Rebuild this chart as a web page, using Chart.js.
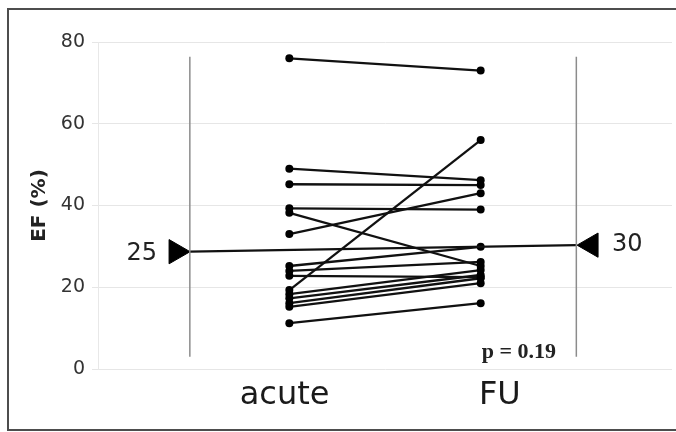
<!DOCTYPE html>
<html><head><meta charset="utf-8">
<script src="https://cdn.jsdelivr.net/npm/chart.js@4"></script>
<style>
html,body{margin:0;padding:0;background:#fff;overflow:hidden;width:676px;height:432px}
#wrap{position:relative;width:676px;height:432px;overflow:hidden}
#frame{position:absolute;left:7px;top:8px;width:700px;height:419px;border:2px solid #4d4d4d;border-right:none}
canvas{position:absolute;left:0;top:0}
</style></head>
<body><div id="wrap"><div id="frame"></div><canvas id="c" width="676" height="432"></canvas></div>
<script>
// ---- data ----
const groups = ['acute', 'FU'];
const acuteEF = [76, 49, 45.2, 39.3, 38.2, 33, 25.2, 24, 22.8, 19.3, 18.3, 17.3, 16.1, 15.2, 11.2];
const fuEF    = [73, 46.2, 45, 39, 25.2, 43, 29.9, 26.2, 22.5, 56, 24.2, 23, 22.2, 21, 16.1];
const medianEF = [28.7, 30.3];
const medianText = ['25', '30'];
const pText = 'p = 0.19';
const yTickValues = [0, 20, 40, 60, 80];
const yTitle = 'EF (%)';

const X_GUIDE_L = 0.48, X_GUIDE_R = 2.5;
const X_TRI_L = 0.408, X_TRI_R = 2.577;
const X_LABEL_POS = [0.975, 2.1];
const GUIDE_Y = [3, 76.4];

const datasets = [];
[X_GUIDE_L, X_GUIDE_R].forEach(gx => datasets.push({
  data: [{x: gx, y: GUIDE_Y[0]}, {x: gx, y: GUIDE_Y[1]}],
  borderColor: '#8c8c8c', borderWidth: 1.5, pointRadius: 0, showLine: true
}));
datasets.push({
  data: [{x: X_GUIDE_L, y: medianEF[0]}, {x: X_GUIDE_R, y: medianEF[1]}],
  borderColor: '#111', borderWidth: 2.2, pointRadius: 0, showLine: true
});
datasets.push({
  data: [{x: X_TRI_L, y: medianEF[0]}, {x: X_TRI_R, y: medianEF[1]}],
  showLine: false, pointStyle: 'triangle', pointRotation: [90, -90],
  pointRadius: 14, pointBackgroundColor: '#000', pointBorderColor: '#000', pointBorderWidth: 1
});
acuteEF.forEach((a, i) => datasets.push({
  data: [{x: 1, y: a}, {x: 2, y: fuEF[i]}],
  borderColor: '#111', borderWidth: 2.3, showLine: true,
  pointRadius: 4, pointBackgroundColor: '#000', pointBorderColor: '#000', pointBorderWidth: 0
}));

const annot = {
  id: 'annot',
  afterDatasetsDraw(chart) {
    const {ctx, scales: {x, y}} = chart;
    ctx.save();
    ctx.fillStyle = '#222';
    ctx.font = '24px "DejaVu Sans"';
    ctx.textBaseline = 'middle';
    ctx.textAlign = 'right';
    ctx.fillText(medianText[0], x.getPixelForValue(X_TRI_L) - 19, y.getPixelForValue(medianEF[0]) + 2);
    ctx.textAlign = 'left';
    ctx.fillText(medianText[1], x.getPixelForValue(X_TRI_R) + 21, y.getPixelForValue(medianEF[1]));
    ctx.font = 'bold 22px "Liberation Serif"';
    ctx.textAlign = 'center';
    ctx.fillText(pText, x.getPixelForValue(2.2), y.getPixelForValue(4.2));
    ctx.restore();
  }
};

new Chart(document.getElementById('c'), {
  type: 'line',
  data: {datasets},
  plugins: [annot],
  options: {
    responsive: false, animation: false,
    layout: {autoPadding: false, padding: {left: 0, right: 4, top: 42, bottom: 0}},
    plugins: {legend: {display: false}, tooltip: {enabled: false}},
    scales: {
      x: {
        type: 'linear', min: 0, max: 3,
        afterBuildTicks: ax => { ax.ticks = X_LABEL_POS.map(v => ({value: v})); },
        afterFit: ax => { ax.height = 63; ax.paddingLeft = 0; ax.paddingRight = 0; },
        grid: {display: false}, border: {display: false},
        ticks: {autoSkip: false, padding: -1, color: '#1a1a1a',
          font: {family: 'DejaVu Sans', size: 32},
          callback: (v, i) => groups[i]}
      },
      y: {
        min: 0, max: 80,
        afterBuildTicks: ax => { ax.ticks = yTickValues.map(v => ({value: v})); },
        afterFit: ax => { ax.width = 98; },
        grid: {color: '#e6e6e6', lineWidth: 1, tickLength: 6},
        border: {color: '#e8e8e8'},
        ticks: {padding: 7, color: '#333', font: {family: 'DejaVu Sans', size: 19}},
        title: {display: true, text: yTitle, color: '#222', padding: {top: 28, bottom: 0},
          font: {family: 'DejaVu Sans', size: 20, weight: 'bold'}}
      }
    }
  }
});
</script></body></html>
